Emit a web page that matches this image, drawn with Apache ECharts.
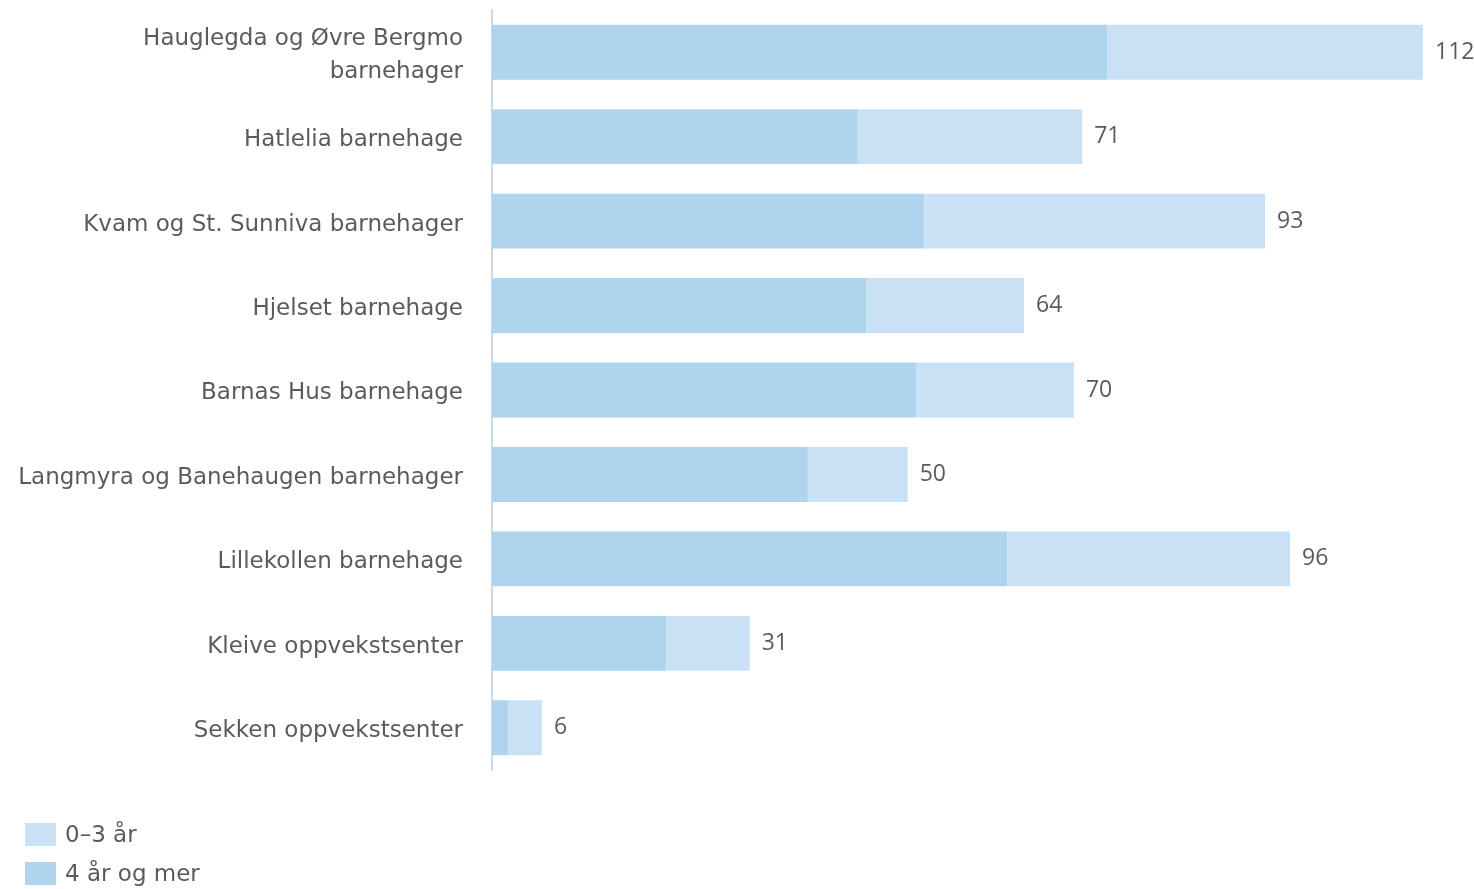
<!DOCTYPE html>
<html>
<head>
<meta charset="utf-8">
<script src="https://cdn.jsdelivr.net/npm/echarts@6/dist/echarts.min.js"></script>
<style>html,body{margin:0;padding:0;background:#fff;}#c{width:1474px;height:889px;}</style>
</head>
<body>
<div id="c"></div>
<script>
const categories = [
  "Hauglegda og Øvre Bergmo\nbarnehager",
  "Hatlelia barnehage",
  "Kvam og St. Sunniva barnehager",
  "Hjelset barnehage",
  "Barnas Hus barnehage",
  "Langmyra og Banehaugen barnehager",
  "Lillekollen barnehage",
  "Kleive oppvekstsenter",
  "Sekken oppvekstsenter"
];
const age4plus = [74, 44, 52, 45, 51, 38, 62, 21, 2];
const age0to3 = [38, 27, 41, 19, 19, 12, 34, 10, 4];
const seriesNames = ["0–3 år", "4 år og mer"];

const textColor = "#5b5b5b";
const font = "'DejaVu Sans', sans-serif";
const numFont = "'Open Sans', sans-serif";
const chart = echarts.init(document.getElementById('c'));
chart.setOption({
  animation: false,
  textStyle: { fontFamily: font },
  grid: { left: 492, top: 10, width: 931, bottom: 119 },
  legend: {
    data: seriesNames,
    orient: 'vertical',
    left: 25,
    top: 823,
    height: 200,
    padding: 0,
    itemWidth: 31,
    itemHeight: 23,
    itemGap: 14,
    icon: 'rect',
    formatter: n => '{t|' + n + '}',
    textStyle: {
      color: textColor, fontSize: 23, fontFamily: font,
      rich: { t: { color: textColor, fontSize: 23, fontFamily: font, padding: [4, 0, 0, 4] } }
    },
    itemStyle: { borderWidth: 0 }
  },
  xAxis: {
    type: 'value', min: 0, max: 112,
    show: false
  },
  yAxis: {
    type: 'category',
    data: categories,
    inverse: true,
    offset: 2,
    axisLine: { show: true, lineStyle: { color: '#c9d9e8', width: 2 } },
    axisTick: { show: false },
    axisLabel: {
      color: textColor, fontSize: 23, fontFamily: font, margin: 27, lineHeight: 33,
      formatter: v => v.split('\n').map(s => '{a|' + s + '}').join('\n'),
      rich: { a: { color: textColor, fontSize: 23, fontFamily: font, lineHeight: 33, padding: [7, 0, 0, 0] } }
    }
  },
  series: [
    {
      name: seriesNames[1], type: 'bar', stack: 'a', data: age4plus,
      barWidth: '65%',
      itemStyle: { color: '#afd5ee' }
    },
    {
      name: seriesNames[0], type: 'bar', stack: 'a', data: age0to3,
      barWidth: '65%',
      itemStyle: { color: '#c9e1f4' },
      label: {
        show: true, position: 'right', distance: 12,
        color: textColor, fontSize: 23, fontFamily: numFont,
        formatter: p => String(age4plus[p.dataIndex] + age0to3[p.dataIndex])
      }
    }
  ]
});
</script>
</body>
</html>
